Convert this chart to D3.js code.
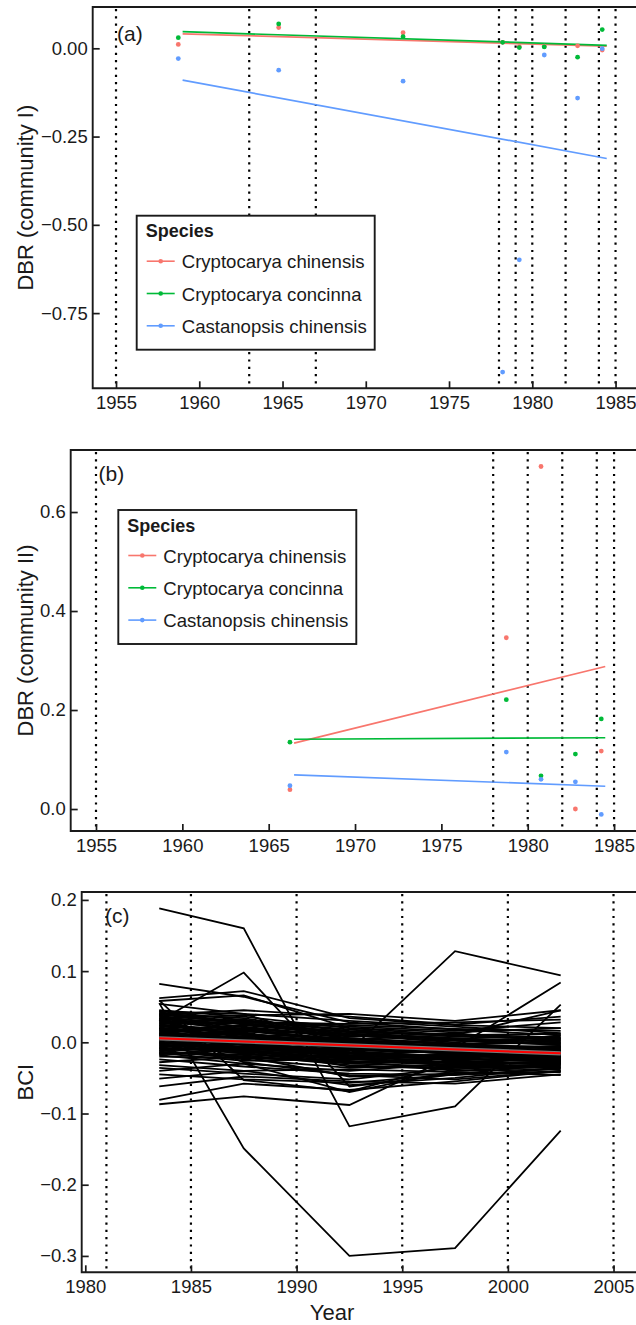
<!DOCTYPE html>
<html>
<head>
<meta charset="utf-8">
<script src="https://cdn.jsdelivr.net/npm/d3@7"></script>
<style>
  html, body { margin: 0; padding: 0; background: #fff; overflow: hidden; }
  svg { display: block; font-family: "Liberation Sans", Arial, Helvetica, sans-serif; }
</style>
</head>
<body>
<script>
// --- Data ---
const speciesNames = ["Cryptocarya chinensis", "Cryptocarya concinna", "Castanopsis chinensis"];
const speciesColors = ["#F8766D", "#00BA38", "#619CFF"];

// Panel (a): community I
const yearsA = [1958.74, 1964.77, 1972.24, 1978.22, 1979.22, 1980.72, 1982.72, 1984.2];
const chinensisA = [0.011, 0.059, 0.044, 0.017, 0.005, 0.006, 0.007, -0.005];
const concinnaA = [0.030, 0.069, 0.033, 0.017, 0.002, 0.004, -0.025, 0.053];
const castanopsisA = [-0.029, -0.062, -0.093, -0.917, -0.599, -0.019, -0.141, -0.001];
const fitYearsA = [1959.0, 1984.47];
const fitChinensisA = [0.041, 0.006];
const fitConcinnaA = [0.047, 0.0085];
const fitCastanopsisA = [-0.090, -0.312];
const eventYearsA = [1955, 1963, 1967, 1978, 1979, 1980, 1982, 1984, 1985];
const yTicksA = [0, -0.25, -0.5, -0.75];

// Panel (b): community II
const yearsB = [1966.23, 1978.76, 1980.77, 1982.76, 1984.26];
const chinensisB = [0.039, 0.346, 0.692, 0.000, 0.117];
const concinnaB = [0.135, 0.221, 0.067, 0.111, 0.182];
const castanopsisB = [0.047, 0.115, 0.060, 0.055, -0.011];
const fitYearsB = [1966.47, 1984.49];
const fitChinensisB = [0.133, 0.288];
const fitConcinnaB = [0.141, 0.144];
const fitCastanopsisB = [0.069, 0.046];
const eventYearsB = [1955, 1978, 1980, 1982, 1984, 1985];
const yTicksB = [0, 0.2, 0.4, 0.6];

const xTicksAB = [1955, 1960, 1965, 1970, 1975, 1980, 1985];

// Panel (c): BCI
const bciYears = [1983.5, 1987.5, 1992.5, 1997.5, 2002.5];
const bciSeries = [
  [0.188, 0.160, -0.118, -0.090, 0.053],
  [0.055, -0.149, -0.300, -0.289, -0.124],
  [0.030, 0.098, -0.062, -0.045, -0.030],
  [0.005, -0.010, -0.012, 0.128, 0.094],
  [0.012, 0.005, -0.020, -0.008, 0.084],
  [0.082, 0.064, 0.028, 0.018, 0.010],
  [0.062, 0.072, 0.034, 0.024, 0.020],
  [0.058, 0.066, 0.020, 0.010, 0.045],
  [0.054, 0.040, -0.005, -0.015, -0.025],
  [0.059, -0.053, -0.069, -0.030, -0.020],
  [-0.087, -0.076, -0.088, -0.018, -0.022],
  [-0.081, -0.058, -0.067, -0.055, -0.040],
  [-0.062, -0.048, -0.055, -0.058, -0.045],
  [-0.051, -0.040, -0.060, -0.050, -0.035],
  [-0.045, -0.052, -0.057, -0.045, -0.042],
  [-0.040, -0.030, -0.070, -0.040, -0.038],
  [0.043, 0.040, 0.030, 0.022, 0.013],
  [0.041, 0.025, 0.012, 0.004, -0.002],
  [0.040, 0.034, 0.010, 0.000, 0.008],
  [0.038, 0.012, -0.005, -0.012, -0.010],
  [0.036, 0.030, 0.018, 0.008, 0.005],
  [0.035, 0.018, 0.002, -0.006, 0.010],
  [0.033, 0.022, 0.008, 0.012, 0.003],
  [0.031, 0.005, -0.010, -0.016, -0.020],
  [0.030, 0.026, 0.015, 0.003, -0.004],
  [0.028, 0.010, 0.000, -0.004, 0.006],
  [0.027, 0.032, 0.005, -0.010, -0.015],
  [0.025, 0.015, 0.012, 0.006, 0.000],
  [0.024, 0.000, -0.014, -0.020, -0.012],
  [0.022, 0.020, -0.002, -0.008, -0.006],
  [0.021, 0.008, 0.004, 0.010, 0.012],
  [0.019, 0.014, -0.008, -0.014, -0.018],
  [0.018, -0.004, -0.018, -0.024, -0.026],
  [0.016, 0.011, 0.006, -0.002, -0.008],
  [0.015, 0.024, 0.010, 0.002, -0.003],
  [0.013, 0.002, -0.006, -0.010, -0.014],
  [0.012, 0.006, -0.004, 0.004, 0.002],
  [0.010, -0.008, -0.020, -0.018, -0.024],
  [0.009, 0.016, 0.001, -0.006, -0.011],
  [0.007, -0.002, -0.012, -0.022, -0.016],
  [0.006, 0.004, -0.010, -0.004, -0.007],
  [0.004, -0.012, -0.026, -0.028, -0.030],
  [0.003, 0.009, -0.003, -0.012, -0.020],
  [0.001, -0.006, -0.016, -0.008, -0.005],
  [0.000, -0.014, -0.022, -0.030, -0.027],
  [-0.002, 0.001, -0.008, -0.016, -0.022],
  [-0.003, -0.010, -0.024, -0.020, -0.012],
  [-0.005, -0.016, -0.030, -0.034, -0.032],
  [-0.006, -0.003, -0.014, -0.026, -0.018],
  [-0.008, -0.020, -0.028, -0.022, -0.028],
  [-0.009, -0.012, -0.018, -0.012, -0.010],
  [-0.011, -0.024, -0.036, -0.032, -0.034],
  [-0.012, -0.006, -0.020, -0.028, -0.024],
  [-0.014, -0.018, -0.032, -0.038, -0.030],
  [-0.015, -0.026, -0.024, -0.018, -0.026],
  [-0.017, -0.010, -0.034, -0.036, -0.036],
  [-0.018, -0.030, -0.040, -0.030, -0.020],
  [-0.020, -0.022, -0.026, -0.040, -0.033],
  [0.039, 0.045, 0.036, 0.025, 0.036],
  [0.034, 0.038, 0.040, 0.030, 0.045],
  [0.026, 0.028, 0.022, 0.016, 0.028],
  [-0.024, -0.034, -0.044, -0.046, -0.037],
  [-0.028, -0.020, -0.048, -0.044, -0.041],
  [-0.032, -0.040, -0.038, -0.042, -0.046],
  [-0.036, -0.044, -0.052, -0.036, -0.030],
  [0.020, -0.028, -0.046, -0.052, -0.040],
  [0.045, 0.036, 0.020, 0.014, 0.020],
  [0.042, 0.028, 0.026, 0.028, 0.032],
  [0.037, 0.021, 0.006, -0.002, -0.001],
  [0.032, 0.016, 0.004, -0.008, -0.012],
  [0.029, 0.019, 0.009, 0.005, 0.001],
  [0.023, 0.012, -0.001, -0.005, -0.009],
  [0.020, 0.004, -0.007, -0.012, -0.006],
  [0.017, 0.018, 0.003, -0.003, -0.013],
  [0.014, 0.007, -0.002, -0.009, -0.017],
  [0.011, -0.001, -0.011, -0.014, -0.019],
  [0.008, 0.012, -0.006, -0.017, -0.021],
  [0.005, -0.004, -0.015, -0.019, -0.023],
  [0.002, 0.003, -0.009, -0.013, -0.015],
  [-0.001, -0.008, -0.019, -0.024, -0.025],
  [-0.004, -0.013, -0.021, -0.017, -0.020],
  [-0.007, -0.015, -0.027, -0.031, -0.029],
  [-0.010, -0.009, -0.016, -0.023, -0.027],
  [-0.013, -0.021, -0.029, -0.027, -0.031],
  [-0.016, -0.017, -0.023, -0.033, -0.028],
  [0.044, 0.031, 0.016, 0.009, 0.004],
  [0.039, 0.027, 0.014, 0.011, 0.007],
  [0.033, 0.029, 0.024, 0.019, 0.016]
];
const trendYearsC = [1983.5, 2002.5];
const trendC = [0.0056, -0.0155];
const trendLowC = [0.0026, -0.0185];
const trendHighC = [0.0086, -0.0125];
const eventYearsC = [1981, 1985, 1990, 1995, 2000, 2005];
const xTicksC = [1980, 1985, 1990, 1995, 2000, 2005];
const yTicksC = [0.2, 0.1, 0, -0.1, -0.2, -0.3];

// --- Setup ---
const W = 636, H = 1325;
const INK = "#1a1a1a";
const svg = d3.select("body").append("svg").attr("width", W).attr("height", H);
const minus = s => s.replace("-", "\u2212");

function makePanel(p) {
  const x = d3.scaleLinear().domain(p.xDomain).range([p.left, p.right]);
  const y = d3.scaleLinear().domain(p.yDomain).range([p.top, p.bottom]);
  const g = svg.append("g").attr("class", "panel-" + p.id);

  svg.append("clipPath").attr("id", "clip-" + p.id).append("rect")
    .attr("x", p.left).attr("y", p.top)
    .attr("width", p.right - p.left).attr("height", p.bottom - p.top);
  const plot = g.append("g").attr("clip-path", `url(#clip-${p.id})`);

  // dotted event lines
  plot.append("g").selectAll("line").data(p.events).join("line")
    .attr("x1", d => x(d)).attr("x2", d => x(d))
    .attr("y1", p.top + 2).attr("y2", p.bottom - 2)
    .attr("stroke", "#000").attr("stroke-width", 2.2)
    .attr("stroke-dasharray", "2.2 5.1");

  // axes (ticks point inward)
  const yAxis = d3.axisLeft(y).tickValues(p.yTicks)
    .tickFormat(v => minus(d3.format(p.yFmt)(v)))
    .tickSizeInner(-7).tickSizeOuter(0).tickPadding(5);
  const xAxis = d3.axisBottom(x).tickValues(p.xTicks)
    .tickFormat(d3.format("d"))
    .tickSizeInner(-7).tickSizeOuter(0).tickPadding(8);

  const ya = g.append("g").attr("transform", `translate(${p.left},0)`).call(yAxis);
  const xa = g.append("g").attr("transform", `translate(0,${p.bottom})`).call(xAxis);
  [ya, xa].forEach(a => {
    a.select(".domain").remove();
    a.selectAll(".tick line").attr("stroke", INK).attr("stroke-width", 1.7);
    a.selectAll(".tick text").attr("fill", INK).style("font-size", "18.5px");
  });

  // panel border (left, top, bottom)
  g.append("path")
    .attr("d", `M${W + 10},${p.top}H${p.left}V${p.bottom}H${W + 10}`)
    .attr("fill", "none").attr("stroke", INK).attr("stroke-width", 1.9);

  // y title
  g.append("text")
    .attr("transform", `translate(33,${(p.top + p.bottom) / 2}) rotate(-90)`)
    .attr("text-anchor", "middle").attr("fill", INK)
    .style("font-size", "22px").text(p.yTitle);

  // panel tag
  g.append("text").attr("x", p.tagX).attr("y", p.tagY)
    .attr("fill", INK).style("font-size", "21px").text(p.tag);

  return { x, y, plot, g };
}

function drawLegend(x0, y0) {
  const lg = svg.append("g").attr("transform", `translate(${x0},${y0})`);
  lg.append("rect").attr("width", 238).attr("height", 134)
    .attr("fill", "#fff").attr("stroke", INK).attr("stroke-width", 1.9);
  lg.append("text").attr("x", 9).attr("y", 21.5)
    .attr("fill", INK).style("font-size", "18px").style("font-weight", "bold")
    .text("Species");
  const item = lg.selectAll("g.item").data(speciesNames).join("g")
    .attr("transform", (d, i) => `translate(0,${45.5 + i * 32.3})`);
  item.append("line").attr("x1", 10).attr("x2", 38)
    .attr("stroke", (d, i) => speciesColors[i]).attr("stroke-width", 1.6);
  item.append("circle").attr("cx", 24).attr("r", 2.3)
    .attr("fill", (d, i) => speciesColors[i]);
  item.append("text").attr("x", 45).attr("y", 7)
    .attr("fill", INK).style("font-size", "18.6px").text(d => d);
}

function drawSpecies(panel, years, valueSets, fitYears, fitSets) {
  const line = d3.line().x(d => panel.x(d[0])).y(d => panel.y(d[1]));
  fitSets.forEach((vals, i) => {
    panel.plot.append("path")
      .datum(d3.zip(fitYears, vals))
      .attr("d", line).attr("fill", "none")
      .attr("stroke", speciesColors[i]).attr("stroke-width", 1.7);
  });
  valueSets.forEach((vals, i) => {
    panel.plot.append("g").selectAll("circle")
      .data(d3.zip(years, vals)).join("circle")
      .attr("cx", d => panel.x(d[0])).attr("cy", d => panel.y(d[1]))
      .attr("r", 2.4).attr("fill", speciesColors[i]);
  });
}

// --- Panel (a) ---
const pa = makePanel({
  id: "a", left: 92.7, right: 660, top: 7, bottom: 388.3,
  xDomain: [1953.6, 1987.67], yDomain: [0.117, -0.963],
  events: eventYearsA, xTicks: xTicksAB, yTicks: yTicksA, yFmt: ".2f",
  yTitle: "DBR (community I)", tag: "(a)", tagX: 117, tagY: 41
});
drawSpecies(pa, yearsA, [chinensisA, concinnaA, castanopsisA],
  fitYearsA, [fitChinensisA, fitConcinnaA, fitCastanopsisA]);
drawLegend(136.7, 215.7);

// --- Panel (b) ---
const pb = makePanel({
  id: "b", left: 70.7, right: 660, top: 450, bottom: 831,
  xDomain: [1953.535, 1987.66], yDomain: [0.7253, -0.0444],
  events: eventYearsB, xTicks: xTicksAB, yTicks: yTicksB, yFmt: ".1f",
  yTitle: "DBR (community II)", tag: "(b)", tagX: 98.5, tagY: 481
});
drawSpecies(pb, yearsB, [chinensisB, concinnaB, castanopsisB],
  fitYearsB, [fitChinensisB, fitConcinnaB, fitCastanopsisB]);
drawLegend(118.3, 510);

// --- Panel (c) ---
const pc = makePanel({
  id: "c", left: 81.7, right: 660, top: 892, bottom: 1272.3,
  xDomain: [1979.83, 2007.2], yDomain: [0.2111, -0.3230],
  events: eventYearsC, xTicks: xTicksC, yTicks: yTicksC, yFmt: ".1f",
  yTitle: "BCI", tag: "(c)", tagX: 105, tagY: 923
});
const bciLine = d3.line().x(d => pc.x(d[0])).y(d => pc.y(d[1]));
pc.plot.append("g").selectAll("path").data(bciSeries).join("path")
  .attr("d", vals => bciLine(d3.zip(bciYears, vals)))
  .attr("fill", "none").attr("stroke", "#000").attr("stroke-width", 1.8)
  .attr("stroke-linejoin", "miter");

const ribbon = d3.area()
  .x(d => pc.x(d[0])).y0(d => pc.y(d[1])).y1(d => pc.y(d[2]));
pc.plot.append("path")
  .datum(d3.zip(trendYearsC, trendLowC, trendHighC))
  .attr("d", ribbon).attr("fill", "#8c8c8c").attr("opacity", 0.85);
pc.plot.append("path")
  .datum(d3.zip(trendYearsC, trendC))
  .attr("d", bciLine).attr("fill", "none")
  .attr("stroke", "#ff0000").attr("stroke-width", 2);

svg.append("text").attr("x", 332).attr("y", 1320)
  .attr("text-anchor", "middle").attr("fill", INK)
  .style("font-size", "22px").text("Year");
</script>
</body>
</html>
